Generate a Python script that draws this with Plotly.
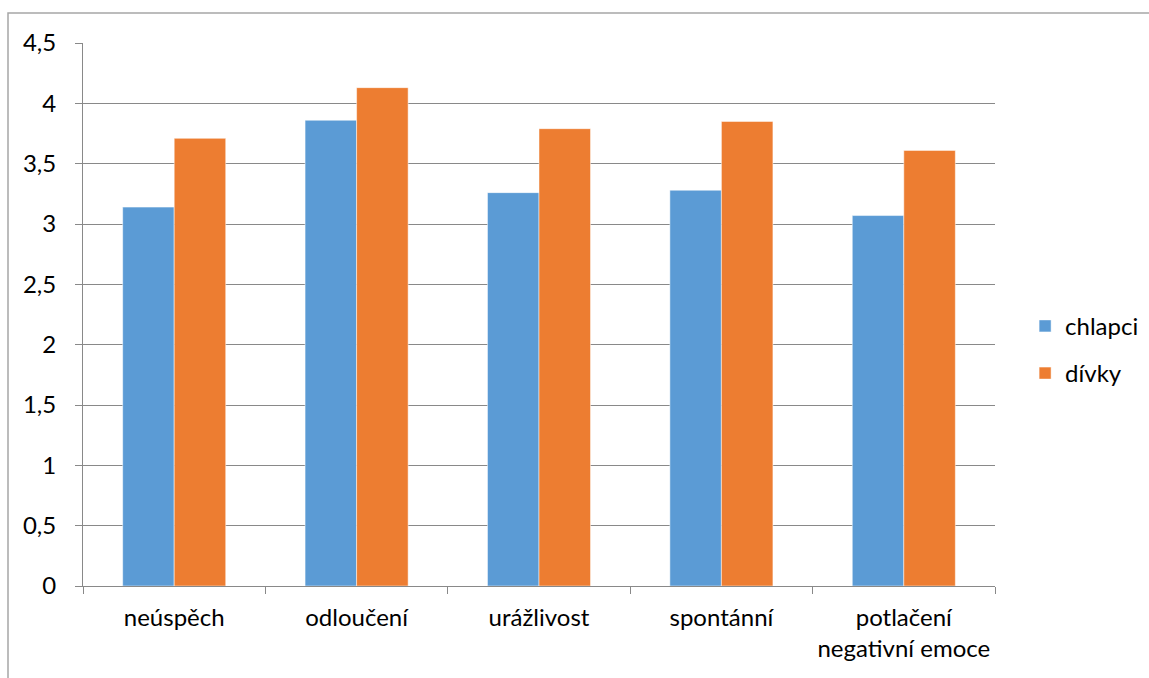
import plotly.graph_objects as go

categories = ["neúspěch", "odloučení", "urážlivost", "spontánní", "potlačení<br>negativní emoce"]
chlapci = [3.14, 3.86, 3.26, 3.28, 3.07]
divky = [3.71, 4.13, 3.79, 3.85, 3.61]
series_names = ["chlapci", "dívky"]
colors = ["#5B9BD5", "#ED7D31"]
y_ticks = [0, 0.5, 1, 1.5, 2, 2.5, 3, 3.5, 4, 4.5]
y_tick_text = ["0", "0,5", "1", "1,5", "2", "2,5", "3", "3,5", "4", "4,5"]

FONT = "Lato"
FS = 24
fig = go.Figure()
for name, vals, col in zip(series_names, [chlapci, divky], colors):
    fig.add_trace(go.Bar(x=categories, y=vals, name=name, legendgroup=name,
                         marker=dict(color=col, line=dict(color="white", width=0.5))))

fig.update_layout(
    width=1149, height=678,
    margin=dict(l=83, r=154, t=43, b=92, autoexpand=False),
    paper_bgcolor="white", plot_bgcolor="white",
    barmode="group", bargap=0.435, bargroupgap=0,
    font=dict(family=FONT, size=FS, color="#000000"),
    showlegend=True,
    legend=dict(x=1.033, y=0.435, xanchor="left", yanchor="middle",
                font=dict(size=FS), tracegroupgap=13, traceorder="grouped",
                itemwidth=30, bgcolor="rgba(0,0,0,0)"),
)
fig.update_xaxes(showline=True, linecolor="#898989", linewidth=1,
                 ticks="outside", ticklen=7, tickcolor="#898989", tickson="boundaries",
                 tickfont=dict(size=FS, family=FONT), showgrid=False, ticklabelstandoff=10,
                 automargin=False)
fig.update_yaxes(range=[0, 4.5], tickvals=y_ticks, ticktext=y_tick_text,
                 showline=True, linecolor="#898989", linewidth=1,
                 ticks="outside", ticklen=7, tickcolor="#898989",
                 showgrid=True, gridcolor="#898989", gridwidth=1,
                 tickfont=dict(size=FS, family=FONT), ticklabelstandoff=14, zeroline=False,
                 automargin=False)

fig.add_shape(type="rect", xref="paper", yref="paper",
              x0=(8 - 83) / 912, x1=(1170 - 83) / 912,
              y0=(586 - 700) / 543, y1=(586 - 13) / 543,
              line=dict(color="#A6A6A6", width=1.5), fillcolor="rgba(0,0,0,0)", layer="below")

fig.write_html("out.html")
